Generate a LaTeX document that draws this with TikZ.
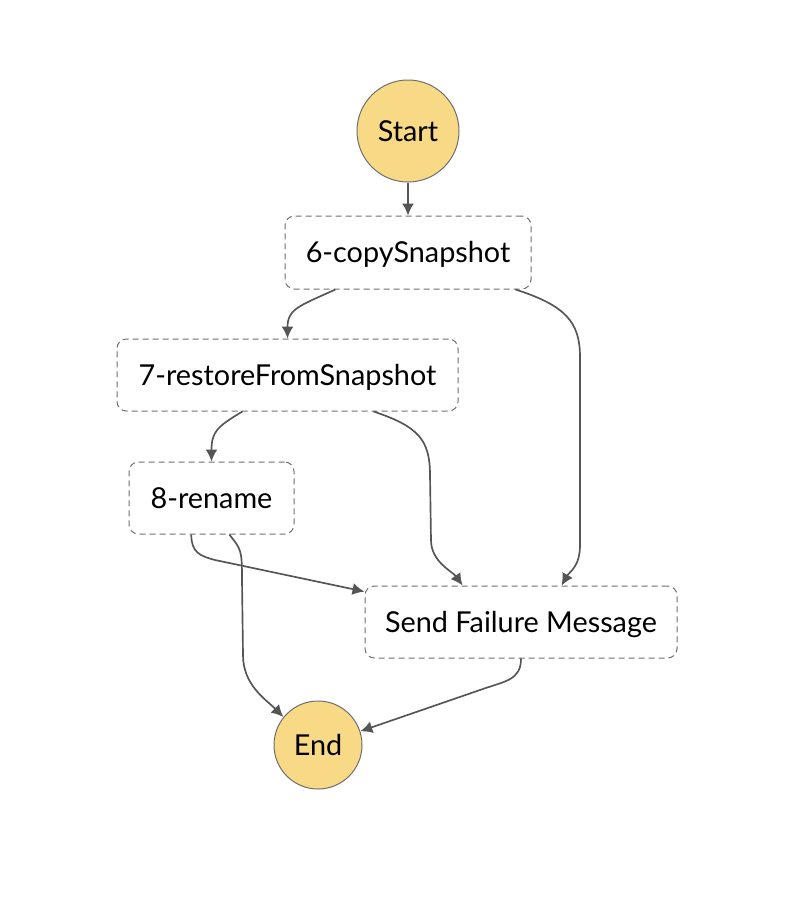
\documentclass[tikz,border=0pt]{standalone}
\usepackage{fontspec}
\setmainfont{Lato}
\usepackage{tikz}
\usetikzlibrary{arrows.meta}
\definecolor{stateyellow}{HTML}{F8D986}
\definecolor{linegray}{HTML}{555555}
\definecolor{boxgray}{HTML}{6E6E6E}

\begin{document}
\begin{tikzpicture}[x=0.75pt, y=-0.75pt,
    every node/.style={font=\fontsize{21.6pt}{26pt}\selectfont, text height=15.5pt, text depth=0pt},
    state/.style={circle, draw=boxgray, line width=0.75pt, fill=stateyellow, inner sep=0pt},
    task/.style={draw=boxgray, line width=0.75pt, dash pattern=on 4.5pt off 3pt,
      rounded corners=7pt, inner sep=0pt, minimum height=54pt},
    flow/.style={draw=linegray, line width=1.25pt, -{Latex[length=9pt, width=9pt]}}]
      \useasboundingbox (0, 0) rectangle (792, 914);
      \node[state, minimum size=76.5pt] (start) at (408, 131) {Start};
      \node[task, minimum width=184.5pt, minimum height=54.75pt] (copy) at (408, 252.5) {6-copySnapshot};
      \node[task, minimum width=255.75pt] (restore) at (287.5, 375) {7-restoreFromSnapshot};
      \node[task, minimum width=123.75pt] (rename) at (211.5, 498) {8-rename};
      \node[task, minimum width=234pt] (fail) at (521, 622) {Send Failure Message};
      \node[state, minimum size=66pt] (End) at (318, 745) {End};
      \draw[flow] (start) -- (copy);
      \draw[flow] (copy.207.5) .. controls +(-35, 16) and +(0, -30) .. (restore.north);
      \draw[flow] (copy.-19.3) .. controls +(50, 16) and +(0, -35) .. (580, 357)
        -- (580, 545) .. controls +(0, 22) and +(8, -14) .. (fail.42);
      \draw[flow] (restore.219) .. controls +(-25, 15) and +(0, -30) .. (rename.north);
      \draw[flow] (restore.-23) .. controls +(45, 15) and +(0, -35) .. (430, 475)
        -- (431, 540) .. controls +(0, 22) and +(-10, -14) .. (fail.148);
      \draw[flow] (rename.241.6) .. controls +(0, 18) and +(-15, -4) .. (215, 560) -- (fail.169.5);
      \draw[flow] (rename.-64) .. controls +(12, 15) and +(0, -30) .. (242, 580)
        -- (243, 655) .. controls +(0, 30) and +(-18, -18) .. (End.141);
      \draw[flow] (fail.south) .. controls +(0, 22) and +(25, -9) .. (480, 690) -- (End.18);
\end{tikzpicture}
\end{document}
